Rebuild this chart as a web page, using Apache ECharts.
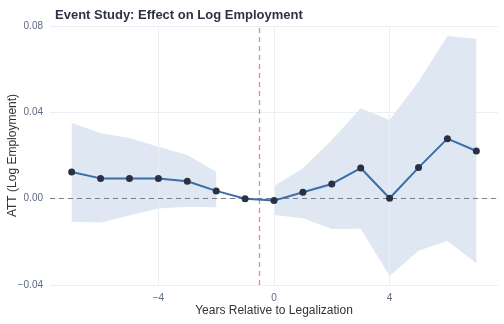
<!DOCTYPE html>
<html><head><meta charset="utf-8">
<script src="https://cdn.jsdelivr.net/npm/echarts@6/dist/echarts.min.js"></script>
<style>html,body{margin:0;padding:0;background:#fff}#c{width:504px;height:324px}</style>
</head><body><div id="c"></div>
<script>
const years = [-7,-6,-5,-4,-3,-2,-1,0,1,2,3,4,5,6,7];
const att   = [0.0124,0.0094,0.0094,0.0093,0.0081,0.0036,0.0,-0.0009,0.0030,0.0068,0.0142,0.0002,0.0144,0.0278,0.0221];
const preYears  = [-7,-6,-5,-4,-3,-2];
const preUpper  = [0.0352,0.0303,0.0281,0.0241,0.0202,0.0125];
const preLower  = [-0.0107,-0.0111,-0.0078,-0.0045,-0.0037,-0.0040];
const postYears = [0,1,2,3,4,5,6,7];
const postUpper = [0.0059,0.0141,0.0272,0.0419,0.0365,0.0542,0.0754,0.0741];
const postLower = [-0.0076,-0.0091,-0.0140,-0.0139,-0.0358,-0.0241,-0.0196,-0.0299];
const xTicks = [-4,0,4];
const treatLine = -0.5;

function band(xs, up, lo){
  return {
    type:'custom', silent:true, z:1,
    data:[0],
    renderItem:function(params, api){
      const pts=[];
      for(let i=0;i<xs.length;i++) pts.push(api.coord([xs[i],up[i]]));
      for(let i=xs.length-1;i>=0;i--) pts.push(api.coord([xs[i],lo[i]]));
      return {type:'polygon', shape:{points:pts}, style:{fill:'#dfe7f2'}};
    }
  };
}

const chart = echarts.init(document.getElementById('c'), null, {renderer:'canvas'});
chart.setOption({
  animation:false,
  title:{text:'Event Study: Effect on Log Employment', left:50, top:4,
    textStyle:{fontFamily:'Liberation Sans, Arial, sans-serif', fontSize:13, fontWeight:'bold', color:'#2d3344'}},
  grid:{left:50, right:6, top:26, bottom:39, containLabel:false, outerBoundsMode:'none'},
  xAxis:{type:'value', min:-7.75, max:7.75,
    name:'Years Relative to Legalization', nameLocation:'middle', nameGap:20, nameMoveOverlap:false,
    nameTextStyle:{fontFamily:'Liberation Sans, Arial, sans-serif', fontSize:12, color:'#333333'},
    axisLine:{show:false}, axisTick:{show:false, customValues:xTicks},
    axisLabel:{customValues:xTicks, fontFamily:'Liberation Sans, Arial, sans-serif', fontSize:10, color:'#5b6a80', margin:8,
      formatter:v=>v<0?'\u2212'+Math.abs(v):String(v)},
    splitLine:{show:false}},
  yAxis:{type:'value', min:-0.04, max:0.08, interval:0.04,
    name:'ATT (Log Employment)', nameLocation:'middle', nameGap:31, nameMoveOverlap:false,
    nameTextStyle:{fontFamily:'Liberation Sans, Arial, sans-serif', fontSize:12, color:'#333333'},
    axisLine:{show:false}, axisTick:{show:false},
    axisLabel:{fontFamily:'Liberation Sans, Arial, sans-serif', fontSize:10, color:'#5b6a80', margin:7,
      formatter:v=>(v<0?'\u2212':'')+Math.abs(v).toFixed(2)},
    splitLine:{lineStyle:{color:'#ebeef3', width:1}}},
  series:[
    band(preYears, preUpper, preLower),
    band(postYears, postUpper, postLower),
    {type:'line', data:[], silent:true, z:2,
      markLine:{silent:true, symbol:'none', label:{show:false},
        lineStyle:{color:'#ebeef3', type:'solid', width:1},
        data:xTicks.map(v=>({xAxis:v}))}},
    {type:'line', data:[], silent:true, z:3,
      markLine:{silent:true, symbol:'none', label:{show:false},
        lineStyle:{color:'#7a7f88', type:[5,4], width:1},
        data:[{yAxis:0}]}},
    {type:'line', z:5, data:years.map((x,i)=>[x,att[i]]),
      lineStyle:{color:'#3a6ea8', width:2},
      symbol:'circle', symbolSize:7,
      itemStyle:{color:'#2b3142', borderWidth:0}},
    {type:'line', data:[], silent:true, z:6,
      markLine:{silent:true, symbol:'none', label:{show:false},
        lineStyle:{color:'#dc8a98', type:[5,4], width:1.3, opacity:1},
        data:[{xAxis:treatLine}]}}
  ]
});
</script></body></html>
